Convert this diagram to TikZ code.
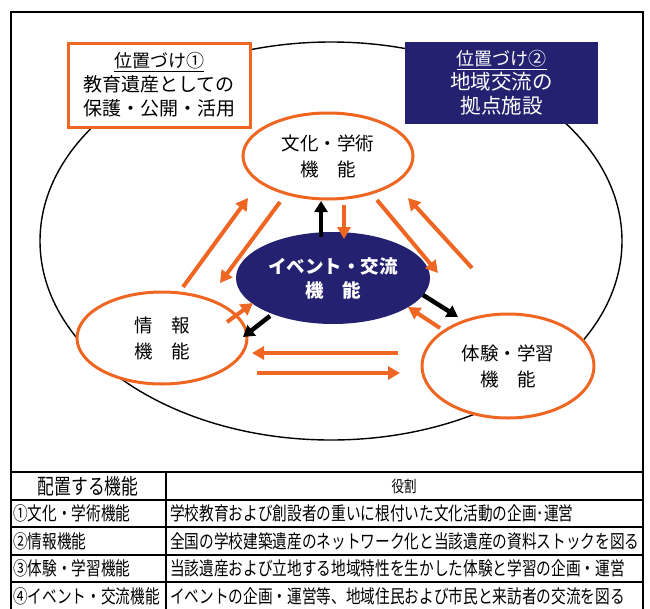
\documentclass[tikz,border=0pt]{standalone}
\usepackage{fontspec}
\setmainfont{Noto Sans CJK JP}
\newfontfamily\tabfont[FakeStretch=0.78]{Noto Sans CJK JP}
\usetikzlibrary{shapes.geometric,arrows.meta}
\definecolor{navy}{RGB}{35,33,112}
\definecolor{orng}{RGB}{238,102,34}
\begin{document}
\begin{tikzpicture}[x=1pt,y=-1pt,
  oarrow/.style={draw=orng, line width=4pt, -{Triangle[length=12pt,width=13pt]}},
  barrow/.style={draw=black, line width=4.5pt, -{Triangle[length=11pt,width=13pt]}},
  func/.style={ellipse, draw=orng, line width=3pt, fill=white, inner sep=0pt, align=center,
    font=\fontsize{18.5}{26}\selectfont},
  posbox/.style={inner sep=0pt, align=center, font=\fontsize{19}{24}\selectfont},
  tline/.style={draw=black, line width=1.6pt},
  ttext/.style={anchor=west, inner sep=0pt, font=\tabfont\fontsize{18.8}{19}\selectfont}]
\clip (0,0) rectangle (650,608);
\fill[white] (0,0) rectangle (650,608);
% outer frame
\draw[line width=1.3pt] (11,620) -- (11,12) -- (643,12) -- (643,620);
% big ellipse
\node[ellipse, draw=black, line width=1.4pt, minimum width=582pt, minimum height=398pt, inner sep=0pt] (world) at (331,241) {};
% position boxes
\node[posbox, draw=orng, line width=3pt, fill=white, minimum width=182pt, minimum height=84pt] (pos1) at (159,85)
  {{\fontsize{18}{20}\selectfont\underline{位置づけ①}}\\教育遺産としての\\保護・公開・活用};
\node[posbox, fill=navy, text=white, minimum width=193pt, minimum height=82pt, font=\fontsize{20.5}{24}\selectfont] (pos2) at (501.5,83)
  {{\fontsize{18}{20}\selectfont\underline{位置づけ②}}\\地域交流の\\拠点施設};
% function ellipses
\node[func, minimum width=170pt, minimum height=86pt] (bunka) at (328,156) {文化・学術\\機　能};
\node[func, minimum width=170pt, minimum height=92pt] (joho) at (162,338) {情　報\\機　能};
\node[func, minimum width=172pt, minimum height=104pt] (taiken) at (508,366) {体験・学習\\機　能};
\node[ellipse, fill=navy, text=white, inner sep=0pt, align=center, minimum width=194pt, minimum height=92pt,
  font=\fontsize{18.5}{24}\selectfont\bfseries] (event) at (333,278) {イベント・交流\\機　能};
% arrow end points
\coordinate (a1s) at (321,237); \coordinate (a1e) at (321,201);
\coordinate (a2s) at (344,205); \coordinate (a2e) at (344,239);
\coordinate (a3s) at (183,287); \coordinate (a3e) at (248,198);
\coordinate (a4s) at (280,202); \coordinate (a4e) at (220,283);
\coordinate (a5s) at (377,200); \coordinate (a5e) at (438,273);
\coordinate (a6s) at (472,268); \coordinate (a6e) at (408,198);
\coordinate (a7s) at (423,295); \coordinate (a7e) at (458,317);
\coordinate (a8s) at (440,328); \coordinate (a8e) at (408,307);
\coordinate (a9s) at (270,316); \coordinate (a9e) at (243,337);
\coordinate (a10s) at (227,322); \coordinate (a10e) at (253,303);
\coordinate (a11s) at (398,353); \coordinate (a11e) at (252,353);
\coordinate (a12s) at (257,373); \coordinate (a12e) at (400,373);
\draw[barrow] (a1s) -- (a1e);
\draw[oarrow] (a2s) -- (a2e);
\draw[oarrow] (a3s) -- (a3e);
\draw[oarrow] (a4s) -- (a4e);
\draw[oarrow] (a5s) -- (a5e);
\draw[oarrow] (a6s) -- (a6e);
\draw[barrow] (a7s) -- (a7e);
\draw[oarrow] (a8s) -- (a8e);
\draw[barrow] (a9s) -- (a9e);
\draw[oarrow] (a10s) -- (a10e);
\draw[oarrow] (a11s) -- (a11e);
\draw[oarrow] (a12s) -- (a12e);
% table
\draw[tline] (11,472) -- (643,472);
\draw[tline] (11,500) -- (643,500);
\draw[tline] (11,527) -- (643,527);
\draw[tline] (11,555) -- (643,555);
\draw[tline] (11,582) -- (643,582);
\draw[tline] (166,472) -- (166,620);
\node[inner sep=0pt, font=\tabfont\fontsize{21.5}{22}\selectfont] (h1) at (88,486) {配置する機能};
\node[inner sep=0pt, font=\tabfont\fontsize{16}{16}\selectfont] (h2) at (404,486) {役割};
\node[ttext] (r1a) at (13,513.5) {①文化・学術機能};
\node[ttext] (r1b) at (170,513.5) {学校教育および創設者の重いに根付いた文化活動の企画･運営};
\node[ttext] (r2a) at (13,541) {②情報機能};
\node[ttext] (r2b) at (170,541) {全国の学校建築遺産のネットワーク化と当該遺産の資料ストックを図る};
\node[ttext] (r3a) at (13,568.5) {③体験・学習機能};
\node[ttext] (r3b) at (170,568.5) {当該遺産および立地する地域特性を生かした体験と学習の企画・運営};
\node[ttext] (r4a) at (13,596) {④イベント・交流機能};
\node[ttext] (r4b) at (170,596) {イベントの企画・運営等、地域住民および市民と来訪者の交流を図る};
\end{tikzpicture}
\end{document}
